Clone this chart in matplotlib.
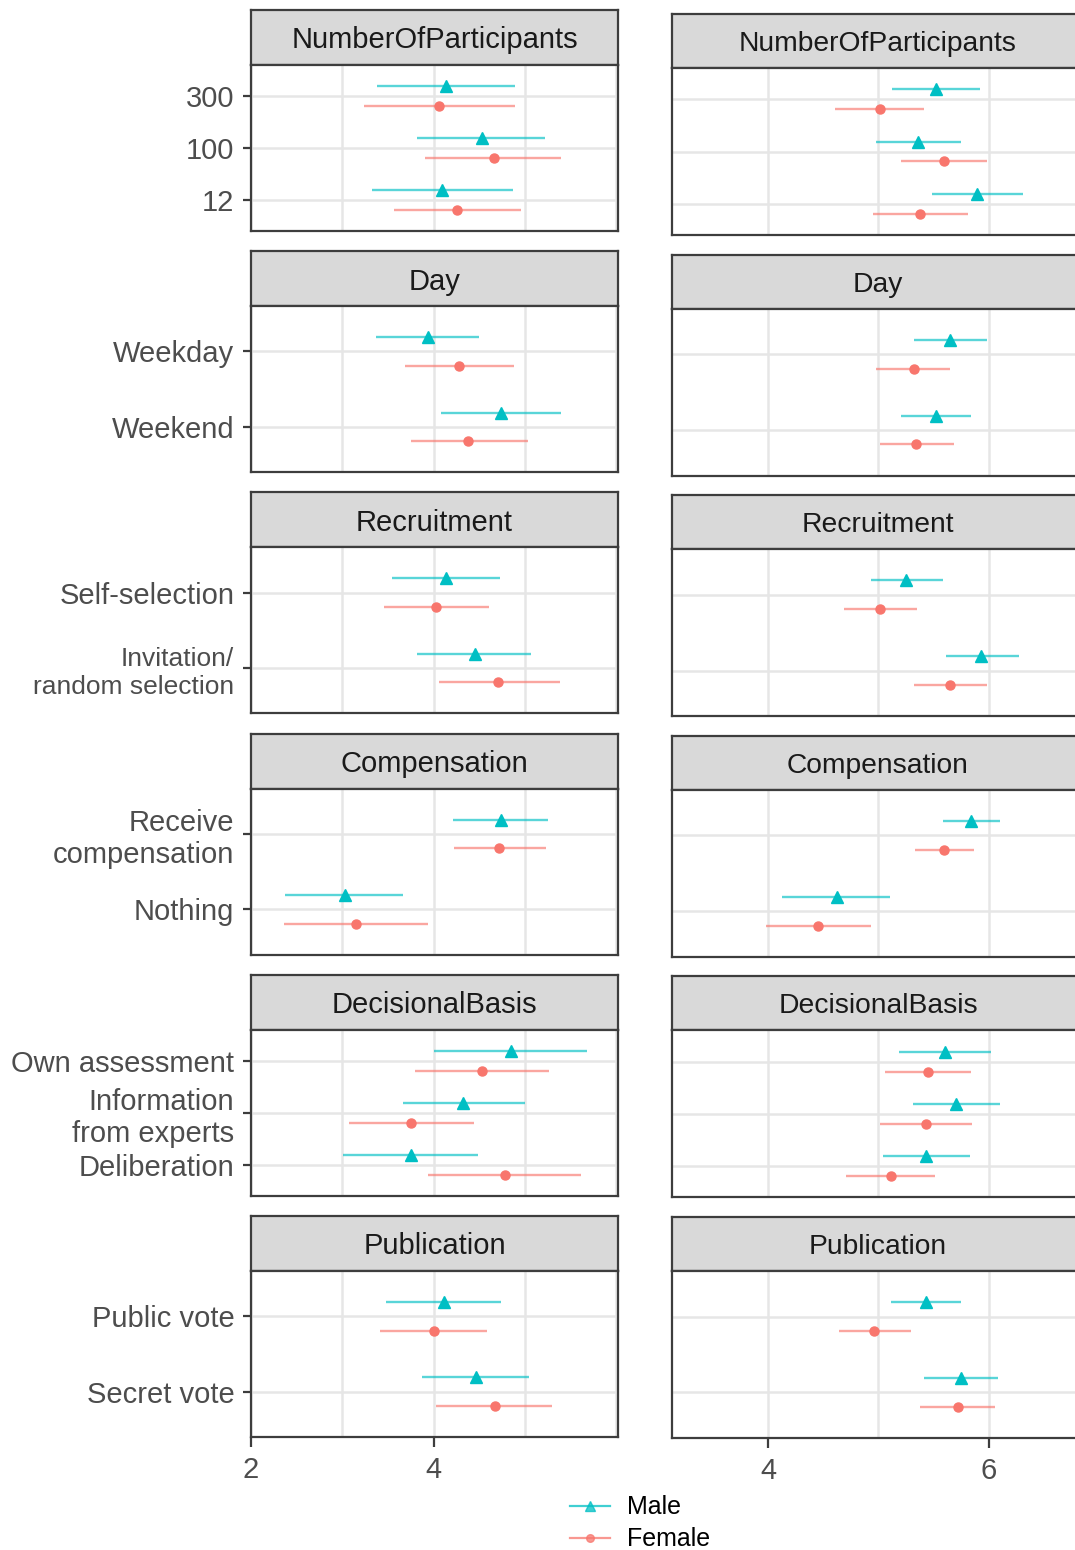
import matplotlib.pyplot as plt
from matplotlib.lines import Line2D

plt.rcParams['font.family'] = ['Liberation Sans', 'DejaVu Sans']

MALE_COL = '#00BFC4'
FEMALE_COL = '#F8766D'

facets = ['NumberOfParticipants', 'Day', 'Recruitment', 'Compensation',
          'DecisionalBasis', 'Publication']
levels = [
    ['300', '100', '12'],
    ['Weekday', 'Weekend'],
    ['Self-selection', 'Invitation/\nrandom selection'],
    ['Receive\ncompensation', 'Nothing'],
    ['Own assessment', 'Information\nfrom experts', 'Deliberation'],
    ['Public vote', 'Secret vote'],
]

# left model: estimate and interval bounds per level
left_male_est = [[4.14, 4.53, 4.09], [3.94, 4.74], [4.14, 4.45], [4.74, 3.03],
                 [4.85, 4.32, 3.75], [4.11, 4.46]]
left_male_lo = [[3.38, 3.82, 3.32], [3.37, 4.08], [3.54, 3.82], [4.21, 2.37],
                [4.00, 3.66, 3.01], [3.48, 3.87]]
left_male_hi = [[4.89, 5.22, 4.87], [4.50, 5.40], [4.73, 5.07], [5.25, 3.67],
                [5.68, 5.00, 4.49], [4.74, 5.04]]
left_female_est = [[4.06, 4.66, 4.26], [4.28, 4.38], [4.03, 4.71], [4.72, 3.15],
                   [4.53, 3.75, 4.78], [4.00, 4.67]]
left_female_lo = [[3.24, 3.91, 3.57], [3.69, 3.75], [3.46, 4.06], [4.22, 2.36],
                  [3.80, 3.07, 3.94], [3.41, 4.03]]
left_female_hi = [[4.89, 5.40, 4.96], [4.88, 5.03], [4.61, 5.38], [5.23, 3.94],
                  [5.26, 4.44, 5.62], [4.59, 5.30]]

# right model
right_male_est = [[5.52, 5.36, 5.89], [5.65, 5.52], [5.25, 5.93], [5.84, 4.62],
                  [5.60, 5.70, 5.43], [5.43, 5.75]]
right_male_lo = [[5.12, 4.98, 5.48], [5.32, 5.20], [4.93, 5.61], [5.58, 4.13],
                 [5.19, 5.31, 5.04], [5.11, 5.41]]
right_male_hi = [[5.92, 5.75, 6.31], [5.98, 5.84], [5.58, 6.27], [6.10, 5.10],
                 [6.02, 6.10, 5.83], [5.75, 6.08]]
right_female_est = [[5.01, 5.59, 5.38], [5.32, 5.34], [5.01, 5.65], [5.59, 4.45],
                    [5.45, 5.43, 5.11], [4.96, 5.72]]
right_female_lo = [[4.61, 5.20, 4.95], [4.98, 5.01], [4.69, 5.32], [5.33, 3.98],
                   [5.06, 5.01, 4.71], [4.64, 5.38]]
right_female_hi = [[5.41, 5.98, 5.81], [5.65, 5.68], [5.35, 5.98], [5.86, 4.93],
                   [5.84, 5.85, 5.51], [5.29, 6.05]]

W, H = 1075, 1550
fig = plt.figure(figsize=(W / 100, H / 100), dpi=100)

EDGE = '#3d3d3d'
GRID = '#E6E6E6'
TXT = '#4D4D4D'
DODGE = 0.19


def px_box(x0, x1, top, bottom):
    return [x0 / W, 1 - bottom / H, (x1 - x0) / W, (bottom - top) / H]


def draw_column(x0, x1, top0, pitch, strip_h, panel_h, xlim, xticks, xgrid,
                male, female, show_labels, strip_size):
    for i, name in enumerate(facets):
        top = top0 + i * pitch
        strip = fig.add_axes(px_box(x0, x1, top, top + strip_h))
        strip.set_facecolor('#D9D9D9')
        strip.set_xticks([])
        strip.set_yticks([])
        for s in strip.spines.values():
            s.set_color(EDGE)
            s.set_linewidth(1.6)
        strip.text(0.5, 0.5, name, ha='center', va='center_baseline',
                   fontsize=strip_size, color='#1A1A1A', transform=strip.transAxes)

        ax = fig.add_axes(px_box(x0, x1, top + strip_h, top + strip_h + panel_h))
        n = len(levels[i])
        pos = [n - k for k in range(n)]
        ym = [p + DODGE for p in pos]
        yf = [p - DODGE for p in pos]

        ax.hlines(ym, male[1][i], male[2][i], color=MALE_COL, lw=1.7, alpha=0.65)
        ax.plot(male[0][i], ym, '^', color=MALE_COL, ms=8.5, ls='none')
        ax.hlines(yf, female[1][i], female[2][i], color=FEMALE_COL, lw=1.7, alpha=0.65)
        ax.plot(female[0][i], yf, 'o', color=FEMALE_COL, ms=6.5, ls='none')

        ax.set_xlim(*xlim)
        ax.set_ylim(0.4, n + 0.6)
        ax.set_xticks(xticks)
        ax.set_xticks([g for g in xgrid if g not in xticks], minor=True)
        ax.set_yticks(pos)
        ax.grid(which='both', axis='x', color=GRID, lw=1.8)
        ax.grid(which='major', axis='y', color=GRID, lw=1.8)
        ax.set_axisbelow(True)
        for s in ax.spines.values():
            s.set_color(EDGE)
            s.set_linewidth(1.6)
        ax.tick_params(axis='x', which='minor', length=0)

        if show_labels:
            ax.set_yticklabels(levels[i], fontsize=21, color=TXT, ma='right')
            for lab in ax.get_yticklabels():
                lab.set_linespacing(1.2)
                if len(lab.get_text()) > 25:
                    # the long two-line label is set a little smaller
                    lab.set_fontsize(19)
                    lab.set_linespacing(1.25)
            ax.tick_params(axis='y', length=6, width=1.6, color=EDGE, pad=6)
        else:
            ax.set_yticklabels([])
            ax.tick_params(axis='y', length=0)

        if i == len(facets) - 1:
            ax.set_xticklabels([f'{t:g}' for t in xticks], fontsize=21, color=TXT)
            ax.tick_params(axis='x', which='major', length=7, width=1.6,
                           color=EDGE, pad=7)
        else:
            ax.set_xticklabels([])
            ax.tick_params(axis='x', which='major', length=0)


draw_column(251, 618, 10, 241.2, 55, 166, (2.0, 6.02), [2, 4], [3, 5, 6],
            (left_male_est, left_male_lo, left_male_hi),
            (left_female_est, left_female_lo, left_female_hi), True, 21)

draw_column(672, 1084, 14, 240.6, 54, 167, (3.131, 6.86), [4, 6], [5],
            (right_male_est, right_male_lo, right_male_hi),
            (right_female_est, right_female_lo, right_female_hi), False, 20.3)

handles = [
    Line2D([], [], color=MALE_COL, marker='^', ms=7, lw=1.6, alpha=0.75),
    Line2D([], [], color=FEMALE_COL, marker='o', ms=5.5, lw=1.6, alpha=0.75),
]
fig.legend(handles, ['Male', 'Female'], loc='upper left',
           bbox_to_anchor=(562 / W, 1 - 1488 / H), frameon=False, fontsize=18,
           handlelength=1.6, labelspacing=0.32, handletextpad=0.7,
           borderaxespad=0, borderpad=0.3)

fig.savefig('out.png', dpi=100, facecolor='white')
